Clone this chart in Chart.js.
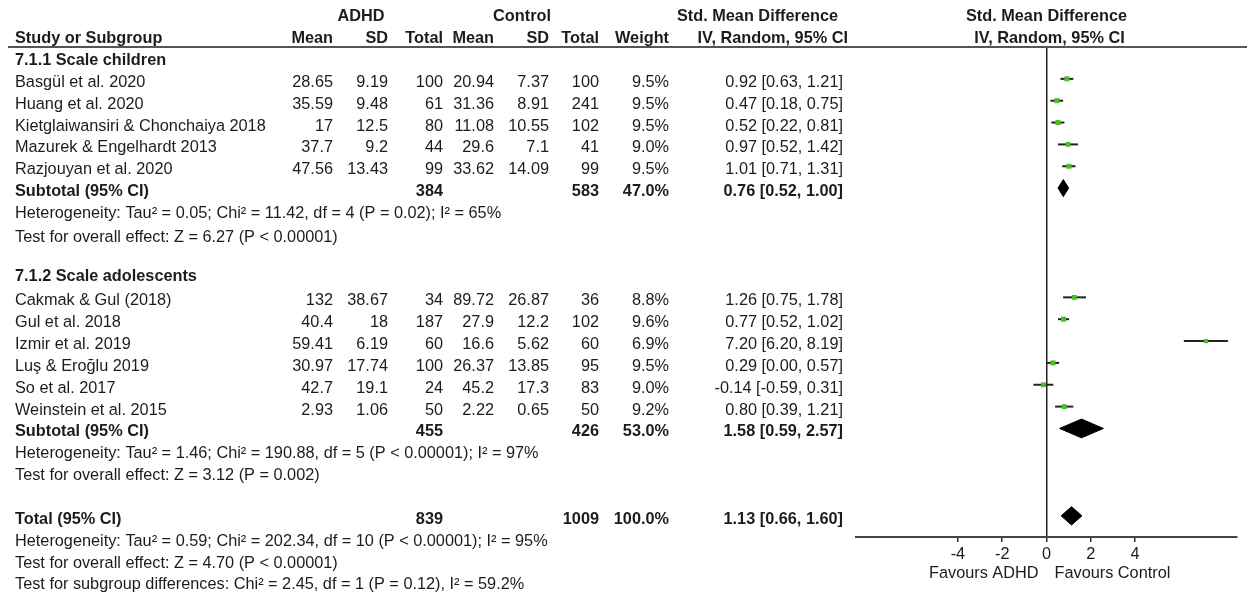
<!DOCTYPE html>
<html>
<head>
<meta charset="utf-8">
<script src="https://cdn.jsdelivr.net/npm/chart.js@4/dist/chart.umd.min.js"></script>
<style>
  html, body { margin: 0; padding: 0; background: #ffffff; }
  #wrap { width: 1247px; height: 596px; }
</style>
</head>
<body>
<div id="wrap"><canvas id="forest" width="1247" height="596"></canvas></div>
<script>
// ---- Study data ----
const studies = ['Basgül et al. 2020', 'Huang et al. 2020', 'Kietglaiwansiri & Chonchaiya 2018',
  'Mazurek & Engelhardt 2013', 'Razjouyan et al. 2020', 'Cakmak & Gul (2018)', 'Gul et al. 2018',
  'Izmir et al. 2019', 'Luş & Eroğlu 2019', 'So et al. 2017', 'Weinstein et al. 2015'];
const studyGroup = [0, 0, 0, 0, 0, 1, 1, 1, 1, 1, 1];
const adhdMean = [28.65, 35.59, 17, 37.7, 47.56, 132, 40.4, 59.41, 30.97, 42.7, 2.93];
const adhdSD   = [9.19, 9.48, 12.5, 9.2, 13.43, 38.67, 18, 6.19, 17.74, 19.1, 1.06];
const adhdN    = [100, 61, 80, 44, 99, 34, 187, 60, 100, 24, 50];
const ctrlMean = [20.94, 31.36, 11.08, 29.6, 33.62, 89.72, 27.9, 16.6, 26.37, 45.2, 2.22];
const ctrlSD   = [7.37, 8.91, 10.55, 7.1, 14.09, 26.87, 12.2, 5.62, 13.85, 17.3, 0.65];
const ctrlN    = [100, 241, 102, 41, 99, 36, 102, 60, 95, 83, 50];
const weight   = [9.5, 9.5, 9.5, 9.0, 9.5, 8.8, 9.6, 6.9, 9.5, 9.0, 9.2];
const smd      = [0.92, 0.47, 0.52, 0.97, 1.01, 1.26, 0.77, 7.20, 0.29, -0.14, 0.80];
const ciLow    = [0.63, 0.18, 0.22, 0.52, 0.71, 0.75, 0.52, 6.20, 0.00, -0.59, 0.39];
const ciHigh   = [1.21, 0.75, 0.81, 1.42, 1.31, 1.78, 1.02, 8.19, 0.57, 0.31, 1.21];

// ---- Pooled estimates: subgroup 1, subgroup 2, overall ----
const pooledLabels = ['Subtotal (95% CI)', 'Subtotal (95% CI)', 'Total (95% CI)'];
const pooledAdhdN  = [384, 455, 839];
const pooledCtrlN  = [583, 426, 1009];
const pooledWeight = [47.0, 53.0, 100.0];
const pooledSmd    = [0.76, 1.58, 1.13];
const pooledLow    = [0.52, 0.59, 0.66];
const pooledHigh   = [1.00, 2.57, 1.60];

const subgroupNames = ['7.1.1 Scale children', '7.1.2 Scale adolescents'];
const subgroupStats = [
  ['Heterogeneity: Tau² = 0.05; Chi² = 11.42, df = 4 (P = 0.02); I² = 65%',
   'Test for overall effect: Z = 6.27 (P < 0.00001)'],
  ['Heterogeneity: Tau² = 1.46; Chi² = 190.88, df = 5 (P < 0.00001); I² = 97%',
   'Test for overall effect: Z = 3.12 (P = 0.002)']
];
const totalStats = [
  'Heterogeneity: Tau² = 0.59; Chi² = 202.34, df = 10 (P < 0.00001); I² = 95%',
  'Test for overall effect: Z = 4.70 (P < 0.00001)',
  'Test for subgroup differences: Chi² = 2.45, df = 1 (P = 0.12), I² = 59.2%'
];

const tickValues = [-4, -2, 0, 2, 4];
const favourLabels = ['Favours ADHD', 'Favours Control'];

// ---- Row layout (line numbers down the page) ----
const groupHeadLine = [0, 9.9];
const studyLine = [1, 2, 3, 4, 5, 11, 12, 13, 14, 15, 16];
const pooledLine = [6, 17, 21];
const statLines = [[7, 8.1], [18, 19]];
const totalStatLines = [22, 23, 24];

const FONT = "'Liberation Sans', Arial, sans-serif";
const SIZE = 16.3;
const INK = '#1c1c1c';
const BOX = '#4cbb2c';

// column right edges of the table
const col = { name: 15, aMean: 333, aSD: 388, aN: 443, cMean: 494, cSD: 549, cN: 599, w: 669, ci: 843 };

const fmt2 = v => v.toFixed(2);
const ciText = (e, l, h) => fmt2(e) + ' [' + fmt2(l) + ', ' + fmt2(h) + ']';

// ---- Datasets ----
const datasets = [];
datasets.push({
  label: 'Study estimates',
  data: smd.map((v, i) => ({ x: v, y: studyLine[i] })),
  pointStyle: 'rect',
  pointRadius: weight.map(w => Math.sqrt(w) * 1.15),
  pointBackgroundColor: BOX,
  pointBorderWidth: 0,
  showLine: false,
  order: 0
});
studies.forEach((s, i) => {
  datasets.push({
    label: s + ' CI',
    data: [{ x: ciLow[i], y: studyLine[i] }, { x: ciHigh[i], y: studyLine[i] }],
    showLine: true,
    borderColor: '#222222',
    borderWidth: 2,
    pointRadius: 0,
    order: 1
  });
});
const halfH = [0.39, 0.43, 0.42];
pooledSmd.forEach((e, i) => {
  const L = pooledLine[i], h = halfH[i];
  datasets.push({
    label: pooledLabels[i],
    data: [{ x: pooledLow[i], y: L }, { x: e, y: L - h }, { x: pooledHigh[i], y: L },
           { x: e, y: L + h }, { x: pooledLow[i], y: L }],
    showLine: true,
    fill: 'shape',
    backgroundColor: '#000000',
    borderColor: '#000000',
    borderWidth: 1,
    pointRadius: 0,
    order: 1
  });
});

// ---- Table text drawn beside the plot ----
const tablePlugin = {
  id: 'forestTable',
  afterDraw(chart) {
    const c = chart.ctx;
    const y = chart.scales.y;
    const x = chart.scales.x;
    const rowY = L => y.getPixelForValue(L) + 3.5;
    const put = (t, px, py, align, bold) => {
      c.font = (bold ? 'bold ' : '') + SIZE + 'px ' + FONT;
      c.textAlign = align;
      c.fillText(t, px, py);
    };
    c.save();
    c.fillStyle = INK;
    c.textBaseline = 'middle';

    // header rows
    const h1 = 16.7, h2 = 38.5;
    put('ADHD', 361, h1, 'center', true);
    put('Control', 522, h1, 'center', true);
    put('Std. Mean Difference', 838, h1, 'right', true);
    put('Std. Mean Difference', x.getPixelForValue(0), h1, 'center', true);
    put('Study or Subgroup', col.name, h2, 'left', true);
    put('Mean', col.aMean, h2, 'right', true);
    put('SD', col.aSD, h2, 'right', true);
    put('Total', col.aN, h2, 'right', true);
    put('Mean', col.cMean, h2, 'right', true);
    put('SD', col.cSD, h2, 'right', true);
    put('Total', col.cN, h2, 'right', true);
    put('Weight', col.w, h2, 'right', true);
    put('IV, Random, 95% CI', 848, h2, 'right', true);
    put('IV, Random, 95% CI', x.getPixelForValue(0) + 3, h2, 'center', true);

    // rule under the header
    c.strokeStyle = '#555555';
    c.lineWidth = 2;
    c.beginPath();
    c.moveTo(8, 47);
    c.lineTo(1247, 47);
    c.stroke();

    // subgroup headings
    subgroupNames.forEach((n, g) => put(n, col.name, rowY(groupHeadLine[g]), 'left', true));

    // study rows
    studies.forEach((s, i) => {
      const py = rowY(studyLine[i]);
      put(s, col.name, py, 'left', false);
      put(String(adhdMean[i]), col.aMean, py, 'right', false);
      put(String(adhdSD[i]), col.aSD, py, 'right', false);
      put(String(adhdN[i]), col.aN, py, 'right', false);
      put(String(ctrlMean[i]), col.cMean, py, 'right', false);
      put(String(ctrlSD[i]), col.cSD, py, 'right', false);
      put(String(ctrlN[i]), col.cN, py, 'right', false);
      put(weight[i].toFixed(1) + '%', col.w, py, 'right', false);
      put(ciText(smd[i], ciLow[i], ciHigh[i]), col.ci, py, 'right', false);
    });

    // pooled rows
    pooledLabels.forEach((lab, i) => {
      const py = rowY(pooledLine[i]);
      put(lab, col.name, py, 'left', true);
      put(String(pooledAdhdN[i]), col.aN, py, 'right', true);
      put(String(pooledCtrlN[i]), col.cN, py, 'right', true);
      put(pooledWeight[i].toFixed(1) + '%', col.w, py, 'right', true);
      put(ciText(pooledSmd[i], pooledLow[i], pooledHigh[i]), col.ci, py, 'right', true);
    });

    // heterogeneity / test lines
    subgroupStats.forEach((lines, g) =>
      lines.forEach((t, k) => put(t, col.name, rowY(statLines[g][k]), 'left', false)));
    totalStats.forEach((t, k) => put(t, col.name, rowY(totalStatLines[k]), 'left', false));

    // axis captions
    const x0 = x.getPixelForValue(0);
    put(favourLabels[0], x0 - 8, 573.5, 'right', false);
    put(favourLabels[1], x0 + 8, 573.5, 'left', false);
    c.restore();
  }
};

new Chart(document.getElementById('forest'), {
  type: 'scatter',
  data: { datasets },
  options: {
    responsive: false,
    animation: false,
    devicePixelRatio: 1,
    layout: { padding: { left: 856, right: 10, top: 47, bottom: 19 } },
    plugins: { legend: { display: false }, tooltip: { enabled: false } },
    scales: {
      x: {
        type: 'linear',
        min: -8.6,
        max: 8.6,
        afterBuildTicks: s => { s.ticks = tickValues.map(v => ({ value: v })); },
        afterFit: s => { s.height = 40; },
        ticks: {
          color: INK,
          font: { family: FONT, size: SIZE },
          padding: 3,
          maxRotation: 0,
          autoSkip: false,
          callback: v => String(v)
        },
        grid: {
          drawOnChartArea: true,
          color: ctx => (ctx.tick && ctx.tick.value === 0) ? '#222222' : 'rgba(0,0,0,0)',
          lineWidth: 1.5,
          tickLength: 5,
          tickColor: '#333333',
          tickWidth: 1.5
        },
        border: { display: true, color: '#444444', width: 2 }
      },
      y: {
        type: 'linear',
        display: false,
        reverse: true,
        min: -0.4577,
        max: 21.968
      }
    }
  },
  plugins: [tablePlugin]
});
</script>
</body>
</html>
